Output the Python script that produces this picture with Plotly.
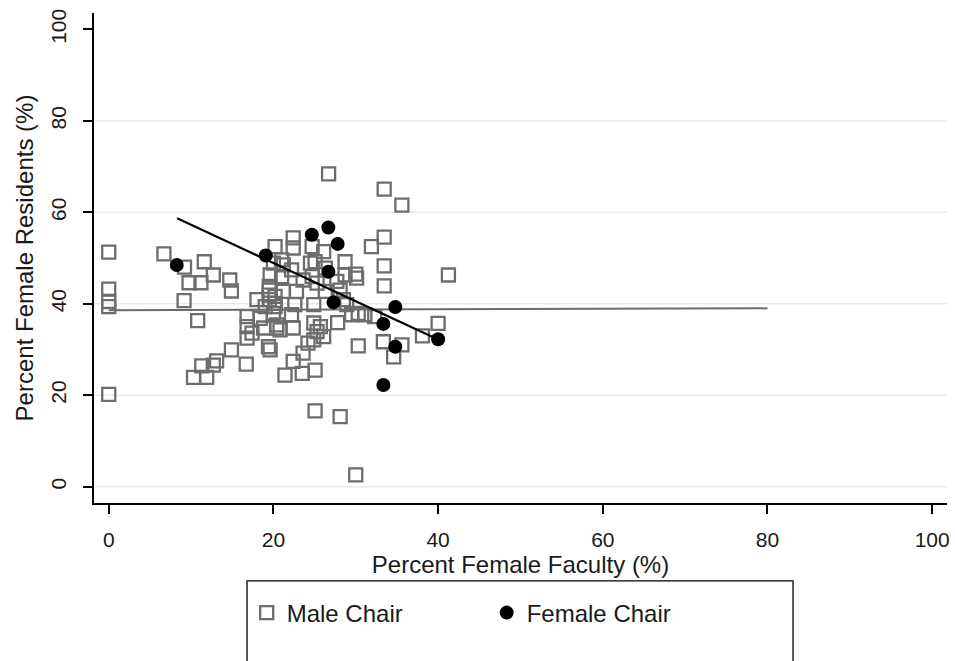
import plotly.graph_objects as go

# Male chair programs: percent female faculty (x) vs percent female residents (y)
male_x = [0, 0, 0, 0, 0,
          6.7, 9.2, 11.6, 12.7, 9.75, 11.2, 14.7, 14.9, 9.15, 10.8,
          13.1, 12.7, 11.3, 10.3, 11.9, 14.9, 16.7, 21.4,
          26.7, 33.45, 35.6, 41.25, 33.45, 31.9, 33.45, 33.45, 30.0,
          40.0, 38.1, 35.6, 34.6, 33.35, 30.3, 25.06, 28.1, 30.0,
          27.8, 29.5, 31.1, 32.3,
          23.5, 25.06, 22.4, 23.6, 24.2, 24.9, 26.1, 25.3, 24.9, 25.7, 22.4, 20.8, 20.4,
          19.4, 19.6, 22.2, 20.2, 22.6, 24.9, 28.9, 30.3,
          18.0, 16.8, 16.8, 17.4, 16.8, 18.4, 18.8, 20.0, 20.4, 19.0,
          22.4, 22.4, 20.2, 24.7, 26.1, 25.06, 24.5, 26.3, 28.7, 28.7, 30.1,
          21.2, 22.2, 21.0, 23.6, 24.7, 25.3, 27.7, 28.1, 26.3, 28.5, 22.8, 21.2,
          19.6, 20.2, 20.2, 20.0, 19.5, 19.5, 19.5, 19.5, 21.0]
male_y = [51.3, 43.2, 40.5, 39.4, 20.2,
          50.9, 48.0, 49.2, 46.3, 44.6, 44.6, 45.2, 42.8, 40.7, 36.3,
          27.5, 26.6, 26.4, 23.9, 23.9, 29.9, 26.8, 24.4,
          68.4, 65.1, 61.6, 46.3, 54.6, 52.5, 48.3, 43.9, 46.5,
          35.7, 33.0, 31.0, 28.4, 31.7, 30.8, 16.6, 15.3, 2.6,
          35.9, 37.6, 37.6, 37.2,
          24.8, 25.5, 27.4, 29.2, 31.4, 32.1, 32.8, 33.9, 35.8, 35.0, 34.7, 34.3, 35.4,
          30.6, 29.9, 37.6, 39.4, 39.8, 39.8, 39.8, 37.9,
          40.9, 37.2, 35.0, 33.6, 32.5, 36.8, 34.7, 37.9, 34.7, 39.4,
          54.4, 52.2, 52.5, 52.5, 51.4, 49.2, 48.9, 47.8, 49.2, 46.3, 45.6,
          48.5, 47.4, 45.95, 45.2, 45.95, 44.5, 44.9, 43.0, 42.7, 40.9, 42.7, 42.7,
          46.3, 41.6, 40.1, 48.9, 43.8, 43.0, 41.9, 40.9, 49.6]

# Female chair programs
female_x = [8.26, 19.07, 24.66, 26.67, 27.8, 26.67, 27.3, 34.8, 33.35, 34.8, 40.0, 33.35]
female_y = [48.5, 50.55, 55.1, 56.7, 53.1, 47.0, 40.3, 39.3, 35.6, 30.6, 32.25, 22.25]

# Fitted lines
male_fit_x = [0, 80]
male_fit_y = [38.6, 39.0]
female_fit_x = [8.3, 40.0]
female_fit_y = [58.7, 32.2]

x_ticks = [0, 20, 40, 60, 80, 100]
y_ticks = [0, 20, 40, 60, 80, 100]
y_grid = [0, 20, 40, 60, 80]

FONT = "Liberation Sans, Arial, sans-serif"

fig = go.Figure()

fig.add_trace(go.Scatter(x=male_fit_x, y=male_fit_y, mode="lines",
                         line=dict(color="#6a6a6a", width=2), showlegend=False,
                         hoverinfo="skip"))
fig.add_trace(go.Scatter(x=male_x, y=male_y, mode="markers", name="Male Chair",
                         marker=dict(symbol="square-open", size=13, color="#6d6d6d",
                                     line=dict(width=2.3, color="#6d6d6d"))))
fig.add_trace(go.Scatter(x=female_x, y=female_y, mode="markers", name="Female Chair",
                         marker=dict(symbol="circle", size=14, color="black")))
fig.add_trace(go.Scatter(x=female_fit_x, y=female_fit_y, mode="lines",
                         line=dict(color="black", width=2.2), showlegend=False,
                         hoverinfo="skip"))

for g in y_grid:
    fig.add_shape(type="line", xref="paper", x0=0, x1=1, yref="y", y0=g, y1=g,
                  line=dict(color="#eaeaea", width=1.5), layer="below")

# legend frame
fig.add_shape(type="rect", xref="paper", yref="paper",
              x0=0.1794, x1=0.8195, y0=-0.159, y1=-0.45,
              line=dict(color="black", width=1.3), fillcolor="rgba(0,0,0,0)")

fig.update_layout(
    width=955, height=661,
    margin=dict(l=94, r=8, t=13, b=158),
    paper_bgcolor="white", plot_bgcolor="white",
    font=dict(family=FONT, size=21, color="#1a1a1a"),
    xaxis=dict(range=[-1.79, 101.8], tickvals=x_ticks, showgrid=False, zeroline=False,
               showline=True, linecolor="black", linewidth=1.5, automargin=False,
               ticks="outside", ticklen=9, tickwidth=1.5, tickcolor="black",
               ticklabelstandoff=8,
               title=dict(text="Percent Female Faculty (%)", standoff=0,
                          font=dict(size=24))),
    yaxis=dict(range=[-3.57, 103.6], tickvals=y_ticks, showgrid=False, zeroline=False,
               showline=True, linecolor="black", linewidth=1.5, automargin=False,
               ticks="outside", ticklen=9, tickwidth=1.5, tickcolor="black",
               tickangle=-90, ticklabelstandoff=9,
               title=dict(text="Percent Female Residents (%)", standoff=6,
                          font=dict(size=24))),
    legend=dict(orientation="h", x=0.179, y=-0.2245, xanchor="left", yanchor="middle",
                bgcolor="rgba(0,0,0,0)", borderwidth=0,
                font=dict(size=24, color="#1a1a1a"),
                entrywidth=195, entrywidthmode="pixels", itemwidth=30),
)

fig.write_html("out.html", config={"displayModeBar": False},
               post_script="document.body.style.margin='0';document.body.style.overflow='hidden';")
